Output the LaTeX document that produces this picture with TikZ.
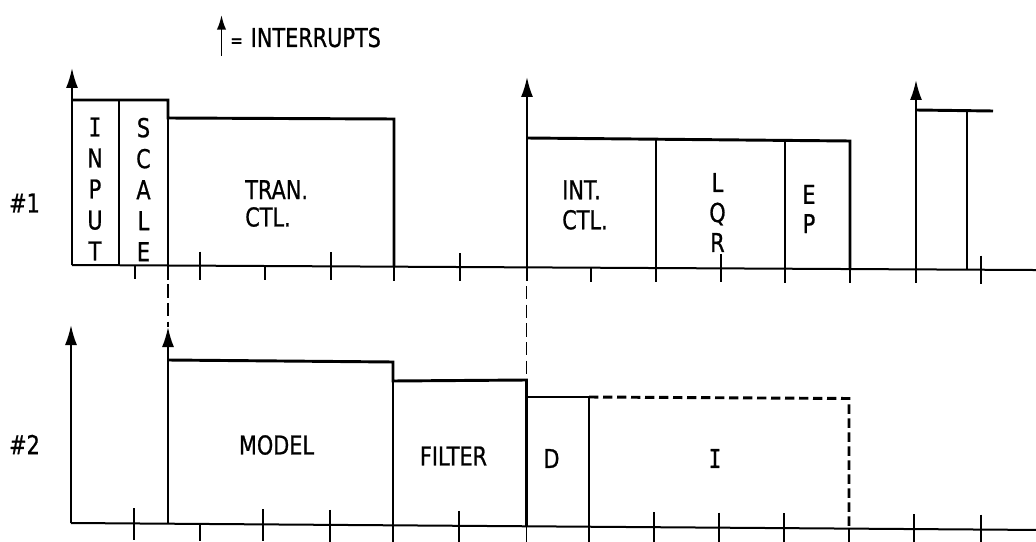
\documentclass[tikz,border=0pt]{standalone}
\usepackage{fontspec}
\setmainfont{DejaVu Sans}[FakeStretch=0.8,FakeBold=0.8]
\newfontfamily\serifI{DejaVu Sans Mono}[FakeStretch=0.8,FakeBold=0.8]
\usetikzlibrary{arrows.meta}
\newcommand\YA[1]{(265+0.0052*(#1-72))}
\newcommand\YB[1]{(523+0.0072*(#1-71))}
\tikzset{
  base/.style={line width=1.5pt},
  tk/.style={line width=1.3pt},
  blk/.style={line width=2.2pt, line join=miter},
  div/.style={line width=1.8pt},
  intr/.style={line width=1.5pt, -{Latex[length=15pt,width=9pt]}},
  link/.style={line width=1.3pt, dash pattern=on 10pt off 4pt},
  openblk/.style={line width=2.2pt, dash pattern=on 7pt off 3.5pt},
  lbl/.style={inner sep=0pt, font=\fontsize{19.5}{23}\selectfont},
}
\begin{document}
\begin{tikzpicture}[x=0.75pt,y=-0.75pt]
\useasboundingbox (0,0) rectangle (1036,542);

% legend
\coordinate (legb) at (221.5,56);
\coordinate (legt) at (221.5,15);
\draw[line width=1.4pt, -{Latex[length=11pt,width=7pt]}] (legb) -- (legt);
\node[lbl, anchor=west] (leg) at (230,37.5) {{\fontsize{14}{14}\selectfont =}\hspace{6pt}INTERRUPTS};

% ================= timeline #1 =================
\node[lbl] (p1) at (24.5,203) {\#1};
\draw[base] (72,{\YA{72}}) -- (1036,{\YA{1036}});
\foreach \x in {135,168,265,394,527,591,656,785,850,916}
  \draw[tk] (\x,{\YA{\x}}) -- ++(0,14);
\foreach \x in {200,331,460,721,981}
  \draw[tk] (\x,{\YA{\x}-14}) -- ++(0,28);

% boxes
\draw[blk] (72,100) -- (168,100) -- (168,118) -- (394,119) -- (394,{\YA{394}});
\draw[div] (119,100) -- (119,{\YA{119}});
\draw[blk] (168,100) -- (168,{\YA{168}});
\draw[blk] (527,138) -- (850,141) -- (850,{\YA{850}});
\draw[div] (656,139.5) -- (656,{\YA{656}});
\draw[div] (785,140.5) -- (785,{\YA{785}});
\draw[blk] (916,110) -- (993,111);
\draw[blk] (967,110.5) -- (967,{\YA{967}});

% interrupts
\coordinate (i1b) at (72,{\YA{72}});   \coordinate (i1t) at (72,68);
\coordinate (i2b) at (527,{\YA{527}}); \coordinate (i2t) at (527,77);
\coordinate (i3b) at (916,{\YA{916}}); \coordinate (i3t) at (916,80);
\draw[intr] (i1b) -- (i1t);
\draw[intr] (i2b) -- (i2t);
\draw[intr] (i3b) -- (i3t);

% labels
\node[lbl, align=center, font=\fontsize{19.5}{23.25}\selectfont] (input) at (95,189) {{\serifI I}\\N\\P\\U\\T};
\node[lbl, align=center, font=\fontsize{19.5}{23.25}\selectfont] (scale) at (143.5,189.5) {S\\C\\A\\L\\E};
\node[lbl, align=left, anchor=west, font=\fontsize{19.5}{20.5}\selectfont] (tran) at (245,203.5) {TRAN.\\CTL.};
\node[lbl, align=left, anchor=west, font=\fontsize{19.5}{22.5}\selectfont] (intctl) at (562,205) {INT.\\CTL.};
\node[lbl, align=center, font=\fontsize{19.5}{22.5}\selectfont] (lqr) at (717.5,212.5) {L\\Q\\R};
\node[lbl, align=center, font=\fontsize{19.5}{22}\selectfont] (ep) at (809,209) {E\\P};

% ================= timeline #2 =================
\node[lbl] (p2) at (24.5,444.5) {\#2};
\draw[base] (71,{\YB{71}}) -- (1036,{\YB{1036}});
\foreach \x in {200,393,526.5,589,849}
  \draw[tk] (\x,{\YB{\x}}) -- ++(0,17);
\foreach \x in {134,263,330,459,654,719,784,914,981}
  \draw[tk] (\x,{\YB{\x}-15}) -- ++(0,32);

% boxes
\draw[blk] (168,360) -- (393,362) -- (393,381) -- (526.5,380) -- (526.5,{\YB{526.5}});
\draw[blk] (393,362) -- (393,{\YB{393}});
\draw[blk] (526.5,397) -- (589,397) -- (589,{\YB{589}});
\draw[openblk] (589,397) -- (849,398.5) -- (849,{\YB{849}});

% interrupts
\coordinate (j1b) at (71,{\YB{71}});   \coordinate (j1t) at (71,325);
\coordinate (j2b) at (168,{\YB{168}}); \coordinate (j2t) at (168,327);
\draw[intr] (j1b) -- (j1t);
\draw[intr] (j2b) -- (j2t);

% dashed links between the timelines
\coordinate (f1) at (168,{\YA{168}});
\coordinate (f2) at (526.5,{\YA{527}});
\coordinate (g2) at (526.5,380);
\draw[link] (f1) -- (j2t);
\draw[link] (f2) -- (g2);

% labels
\node[lbl] (model) at (276.5,445) {MODEL};
\node[lbl] (filter) at (453.5,456) {FILTER};
\node[lbl] (d) at (551.5,458.5) {D};
\node[lbl, font=\fontsize{19.5}{23}\serifI] (ii) at (715,458.5) {I};
\end{tikzpicture}
\end{document}
